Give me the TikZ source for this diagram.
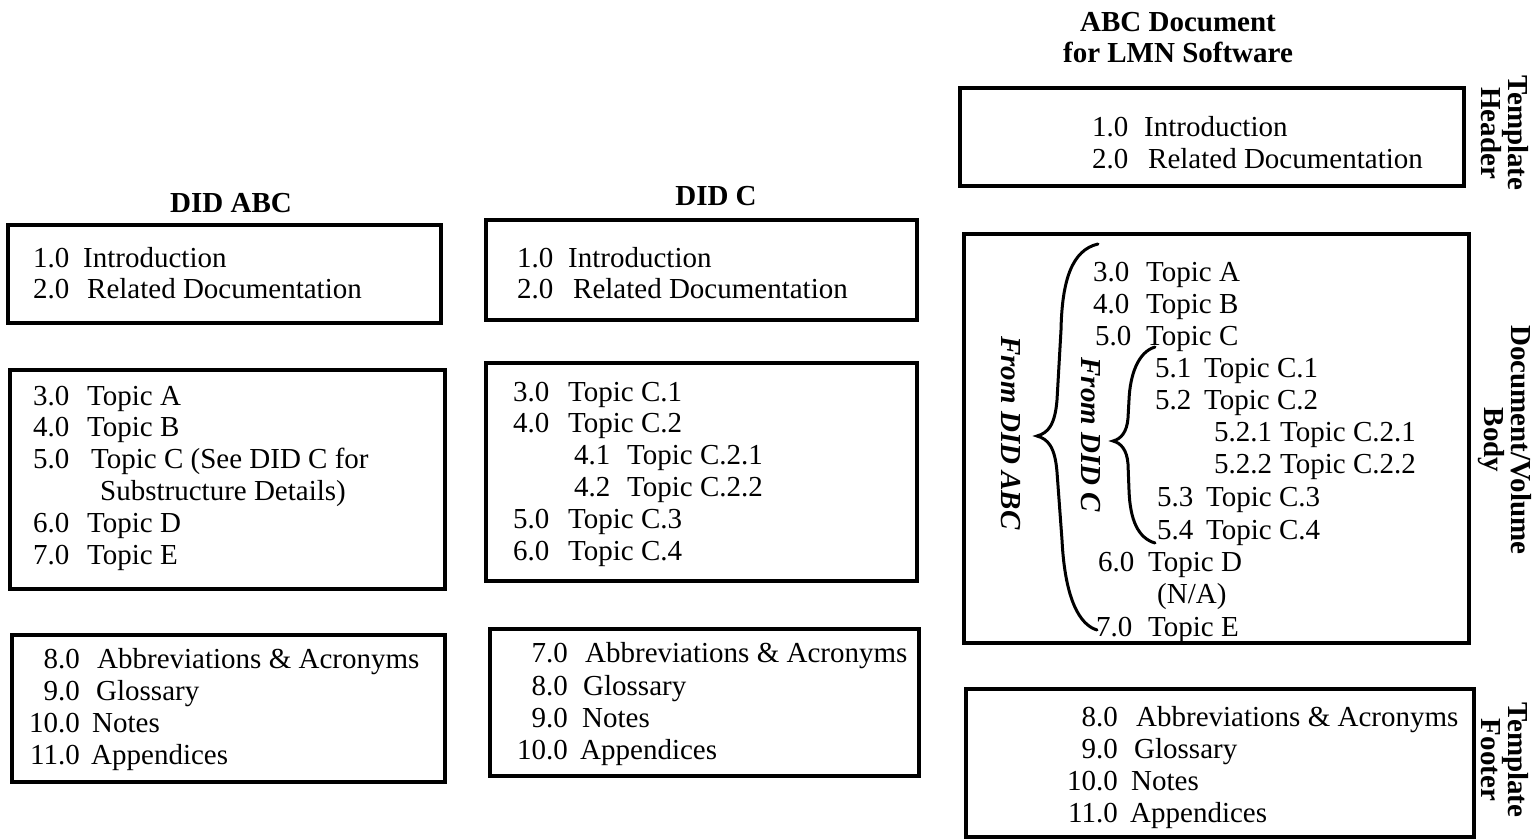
\documentclass[tikz,border=0pt]{standalone}
\usepackage{fontspec}
\setmainfont{Liberation Serif}
\usetikzlibrary{fit}
\tikzset{
  box/.style={draw, line width=3.2pt, inner sep=0pt},
  ln/.style={font=\fontsize{29}{32}\selectfont, inner sep=0pt, anchor=base west},
  lnr/.style={ln, anchor=base east},
  ttl/.style={font=\fontsize{29}{32}\selectfont\bfseries, inner sep=0pt, anchor=base},
  side/.style={font=\fontsize{29}{27}\selectfont\bfseries, align=center, rotate=-90, inner sep=0pt},
  from/.style={font=\fontsize{29}{32}\selectfont\bfseries\itshape, rotate=-90, inner sep=0pt},
  bracepath/.style={line width=3pt, line cap=round},
}
% name, xnum, xtext, baseline, number, text
\newcommand{\itm}[6]{\node[ln] (#1n) at (#2,#4) {#5}; \node[ln] (#1t) at (#3,#4) {#6};}
\newcommand{\itmr}[6]{\node[lnr] (#1n) at (#2,#4) {#5}; \node[ln] (#1t) at (#3,#4) {#6};}
\begin{document}
\begin{tikzpicture}[x=1pt, y=-1pt]
\useasboundingbox (0,0) rectangle (1539,840);

% ---------- DID ABC ----------
\node[ttl] (tA) at (231,212) {DID ABC};
\node[box, fit={(8,225) (441,323)}] (A1) {};
\node[box, fit={(10,370) (445,589)}] (A2) {};
\node[box, fit={(12,635) (445,782)}] (A3) {};

\itm{a11}{33}{83}{267}{1.0}{Introduction}
\itm{a12}{33}{87}{298}{2.0}{Related Documentation}

\itm{a21}{33}{87}{405}{3.0}{Topic A}
\itm{a22}{33}{87}{436}{4.0}{Topic B}
\itm{a23}{33}{91}{468}{5.0}{Topic C (See DID C for}
\node[ln] (a24t) at (100,500) {Substructure Details)};
\itm{a25}{33}{87}{532}{6.0}{Topic D}
\itm{a26}{33}{87}{564}{7.0}{Topic E}

\itmr{a31}{80}{97}{668}{8.0}{Abbreviations \& Acronyms}
\itmr{a32}{80}{96}{700}{9.0}{Glossary}
\itmr{a33}{80}{92}{732}{10.0}{Notes}
\itmr{a34}{80}{91}{764}{11.0}{Appendices}

% ---------- DID C ----------
\node[ttl] (tC) at (716,205) {DID C};
\node[box, fit={(486,220) (917,320)}] (C1) {};
\node[box, fit={(486,363) (917,581)}] (C2) {};
\node[box, fit={(490,629) (919,776)}] (C3) {};

\itm{c11}{517}{568}{267}{1.0}{Introduction}
\itm{c12}{517}{573}{298}{2.0}{Related Documentation}

\itm{c21}{513}{568}{401}{3.0}{Topic C.1}
\itm{c22}{513}{568}{432}{4.0}{Topic C.2}
\itm{c23}{574}{627}{464}{4.1}{Topic C.2.1}
\itm{c24}{574}{627}{496}{4.2}{Topic C.2.2}
\itm{c25}{513}{568}{528}{5.0}{Topic C.3}
\itm{c26}{513}{568}{560}{6.0}{Topic C.4}

\itmr{c31}{568}{585}{662}{7.0}{Abbreviations \& Acronyms}
\itmr{c32}{568}{583}{695}{8.0}{Glossary}
\itmr{c33}{568}{582}{727}{9.0}{Notes}
\itmr{c34}{568}{580}{759}{10.0}{Appendices}

% ---------- ABC Document ----------
\node[ttl] (tR1) at (1178,32) {ABC Document};
\node[ttl] (tR2) at (1178,63) {for LMN Software};
\node[box, fit={(960,88) (1464,186)}] (R1) {};
\node[box, fit={(964,234) (1469,643)}] (R2) {};
\node[box, fit={(966,689) (1474,837)}] (R3) {};

\itm{r11}{1092}{1144}{137}{1.0}{Introduction}
\itm{r12}{1092}{1148}{168}{2.0}{Related Documentation}

\itm{r21}{1093}{1146}{281}{3.0}{Topic A}
\itm{r22}{1093}{1146}{313}{4.0}{Topic B}
\itm{r23}{1095}{1146}{345}{5.0}{Topic C}
\itm{r24}{1155}{1204}{377}{5.1}{Topic C.1}
\itm{r25}{1155}{1204}{409}{5.2}{Topic C.2}
\itm{r26}{1214}{1280}{441}{5.2.1}{Topic C.2.1}
\itm{r27}{1214}{1280}{473}{5.2.2}{Topic C.2.2}
\itm{r28}{1157}{1206}{506}{5.3}{Topic C.3}
\itm{r29}{1157}{1206}{539}{5.4}{Topic C.4}
\itm{r2a}{1098}{1148}{571}{6.0}{Topic D}
\node[ln] (r2bt) at (1157,603) {(N/A)};
\itm{r2c}{1096}{1148}{636}{7.0}{Topic E}

\itmr{r31}{1118}{1136}{726}{8.0}{Abbreviations \& Acronyms}
\itmr{r32}{1118}{1134}{758}{9.0}{Glossary}
\itmr{r33}{1118}{1131}{790}{10.0}{Notes}
\itmr{r34}{1118}{1130}{822}{11.0}{Appendices}

% braces
\draw[bracepath] (1098,244) .. controls (1072,250) and (1062,280) .. (1061,330)
  -- (1057,400) .. controls (1055,425) and (1048,433) .. (1037,436)
  .. controls (1048,439) and (1055,447) .. (1057,472)
  -- (1062,540) .. controls (1065,600) and (1080,625) .. (1097,630);
\draw[bracepath] (1155,347) .. controls (1138,352) and (1130,375) .. (1129,400)
  -- (1128,418) .. controls (1127,432) and (1121,439) .. (1113,441)
  .. controls (1121,443) and (1127,450) .. (1128,464)
  -- (1129,490) .. controls (1130,520) and (1138,538) .. (1155,543);

\node[from] (fABC) at (1011,433) {From DID ABC};
\node[from] (fC) at (1091,435) {From DID C};

% side labels
\node[side] (sH) at (1505,133) {Template\\Header};
\node[side] (sB) at (1505,440) {Document/Volume\\Body};
\node[side] (sF) at (1505,760) {Template\\Footer};
\end{tikzpicture}
\end{document}
